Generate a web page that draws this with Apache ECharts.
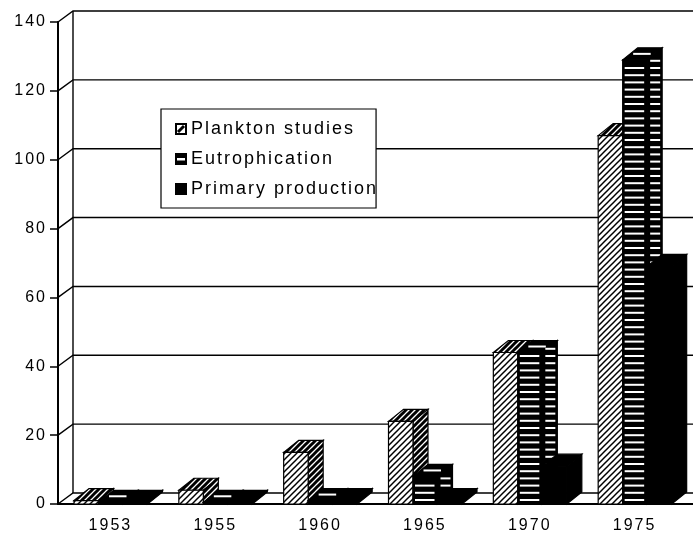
<!DOCTYPE html>
<html>
<head>
<meta charset="utf-8">
<style>html,body{margin:0;padding:0;background:#fff}#main{width:693px;height:535px}</style>
<script src="https://cdn.jsdelivr.net/npm/echarts@6/dist/echarts.min.js"></script>
</head>
<body>
<div id="main"></div>
<script>
const years = ['1953', '1955', '1960', '1965', '1970', '1975'];
const plankton = [1, 4, 15, 24, 44, 107];
const eutrophication = [0.5, 0.5, 1, 8, 44, 129];
const primary = [0.5, 0.5, 1, 1, 11, 69];
const yTicks = [0, 20, 40, 60, 80, 100, 120, 140];

// the scan has wide letter spacing, echarts has no option for it
const origFillText = CanvasRenderingContext2D.prototype.fillText;
CanvasRenderingContext2D.prototype.fillText = function () {
    this.letterSpacing = '2px';
    return origFillText.apply(this, arguments);
};

const FONT = '"Liberation Sans", Arial, sans-serif';
const DX = 15, DY = 12, BAR_W = 24.5, BAND_PAD = 16;

function hatch(lineWidth) {
    const c = document.createElement('canvas');
    c.width = c.height = 6;
    const ctx = c.getContext('2d');
    ctx.fillStyle = '#fff';
    ctx.fillRect(0, 0, 6, 6);
    ctx.strokeStyle = '#000';
    ctx.lineWidth = lineWidth;
    [[-6, 6, 6, -6], [0, 6, 6, 0], [0, 12, 12, 0]].forEach(p => {
        ctx.beginPath();
        ctx.moveTo(p[0], p[1]);
        ctx.lineTo(p[2], p[3]);
        ctx.stroke();
    });
    return c;
}
const hatchFront = { image: hatch(1.5), repeat: 'repeat' };
const hatchDark = { image: hatch(3), repeat: 'repeat' };

function legendIcon(draw) {
    const c = document.createElement('canvas');
    c.width = 12; c.height = 12;
    const ctx = c.getContext('2d');
    ctx.fillStyle = '#000';
    ctx.fillRect(0, 0, 12, 12);
    ctx.fillStyle = '#fff';
    ctx.strokeStyle = '#fff';
    draw(ctx);
    return 'image://' + c.toDataURL();
}
const iconPlankton = legendIcon(ctx => {
    ctx.fillRect(2, 2, 8, 8);
    ctx.strokeStyle = '#000';
    ctx.lineWidth = 3;
    ctx.beginPath(); ctx.moveTo(3, 9); ctx.lineTo(9, 3); ctx.stroke();
});
const iconEutro = legendIcon(ctx => ctx.fillRect(2, 5, 8, 2.5));
const iconPrimary = legendIcon(() => {});

function poly(points, fill) {
    return {
        type: 'polygon',
        shape: { points: points },
        style: { fill: fill, stroke: '#000', lineWidth: 1.2 }
    };
}
function dash(x, y, w) {
    return { type: 'rect', shape: { x: x, y: y, width: w, height: 2 }, style: { fill: '#fff' } };
}

function barRenderer(barIndex, look) {
    return function (params, api) {
        const center = api.coord([api.value(0), api.value(1)]);
        const base = api.coord([api.value(0), 0])[1];
        const band = api.size([1, 0])[0];
        const x = center[0] - band / 2 + BAND_PAD + barIndex * BAR_W;
        const top = center[1];
        const r = x + BAR_W;
        const front = [[x, top], [r, top], [r, base], [x, base]];
        const topFace = [[x, top], [x + DX, top - DY], [r + DX, top - DY], [r, top]];
        const side = [[r, top], [r + DX, top - DY], [r + DX, base - DY], [r, base]];
        const children = [];
        if (look === 'hatch') {
            children.push(poly(topFace, hatchDark), poly(side, hatchDark), poly(front, hatchFront));
        } else {
            children.push(poly(topFace, '#000'), poly(side, '#000'), poly(front, '#000'));
        }
        if (look === 'stripe') {
            children.push(dash(x + DX * 0.5 + 3, top - DY * 0.5 - 1, BAR_W - 7));
            for (let y = base - 5; y > top - DY + 3; y -= 7.2) {
                if (y > top + 2) children.push(dash(x + 2, y, BAR_W - 5));
                if (y > top - 5 && y < base - DY - 1) children.push(dash(r + 3, y, DX - 5));
            }
        }
        return { type: 'group', children: children };
    };
}

// back wall and floor lines behind the bars
function renderWall(params, api) {
    const y = api.coord([0, api.value(1)])[1];
    const x0 = params.coordSys.x;
    const x1 = x0 + params.coordSys.width + 10;
    const lineStyle = { stroke: '#000', lineWidth: 1.4, fill: 'none' };
    const children = [{
        type: 'polyline',
        shape: { points: [[x0, y], [x0 + DX, y - 11], [x1, y - 11]] },
        style: lineStyle
    }];
    if (api.value(1) === 0) {
        children.push({
            type: 'line',
            shape: { x1: x0 + DX, y1: y - 11, x2: x0 + DX, y2: params.coordSys.y - 11 },
            style: lineStyle
        });
        children.push({
            type: 'line',
            shape: { x1: x0, y1: y, x2: x1, y2: y },
            style: { stroke: '#000', lineWidth: 2 }
        });
    }
    return { type: 'group', children: children };
}

function barSeries(name, values, index, look) {
    return {
        name: name,
        type: 'custom',
        renderItem: barRenderer(index, look),
        data: values.map((v, i) => [i, v]),
        encode: { x: 0, y: 1 },
        itemStyle: { color: '#000' },
        z: 3 + index,
        silent: true
    };
}

const chart = echarts.init(document.getElementById('main'), null, { renderer: 'canvas' });
chart.setOption({
    animation: false,
    backgroundColor: '#fff',
    textStyle: { fontFamily: FONT, color: '#000' },
    grid: { left: 58, right: 6, top: 22, bottom: 31 },
    legend: {
        orient: 'vertical',
        left: 161,
        top: 109,
        padding: [11, 34, 10, 14],
        itemGap: 12,
        itemWidth: 12,
        itemHeight: 12,
        backgroundColor: '#fff',
        borderColor: '#000',
        borderWidth: 1.2,
        selectedMode: false,
        textStyle: { fontFamily: FONT, fontSize: 18, color: '#000', padding: [0, 0, 0, -1] },
        data: [
            { name: 'Plankton studies', icon: iconPlankton },
            { name: 'Eutrophication', icon: iconEutro },
            { name: 'Primary production', icon: iconPrimary }
        ]
    },
    xAxis: {
        type: 'category',
        data: years,
        boundaryGap: true,
        axisLine: { lineStyle: { color: '#000', width: 2 } },
        axisTick: { length: 7, lineStyle: { color: '#000', width: 1.5 } },
        axisLabel: { color: '#000', fontFamily: FONT, fontSize: 16, margin: 14 }
    },
    yAxis: {
        type: 'value',
        min: 0,
        max: 140,
        interval: 20,
        splitLine: { show: false },
        axisLine: { show: true, lineStyle: { color: '#000', width: 2 } },
        axisTick: { show: true, length: 8, lineStyle: { color: '#000', width: 1.5 } },
        axisLabel: { color: '#000', fontFamily: FONT, fontSize: 16, margin: 11 }
    },
    series: [
        {
            name: 'wall',
            type: 'custom',
            renderItem: renderWall,
            data: yTicks.map(v => [0, v]),
            encode: { x: 0, y: 1 },
            z: 1,
            silent: true
        },
        barSeries('Plankton studies', plankton, 0, 'hatch'),
        barSeries('Eutrophication', eutrophication, 1, 'stripe'),
        barSeries('Primary production', primary, 2, 'solid')
    ]
});
window.addEventListener('resize', () => chart.resize());
</script>
</body>
</html>
